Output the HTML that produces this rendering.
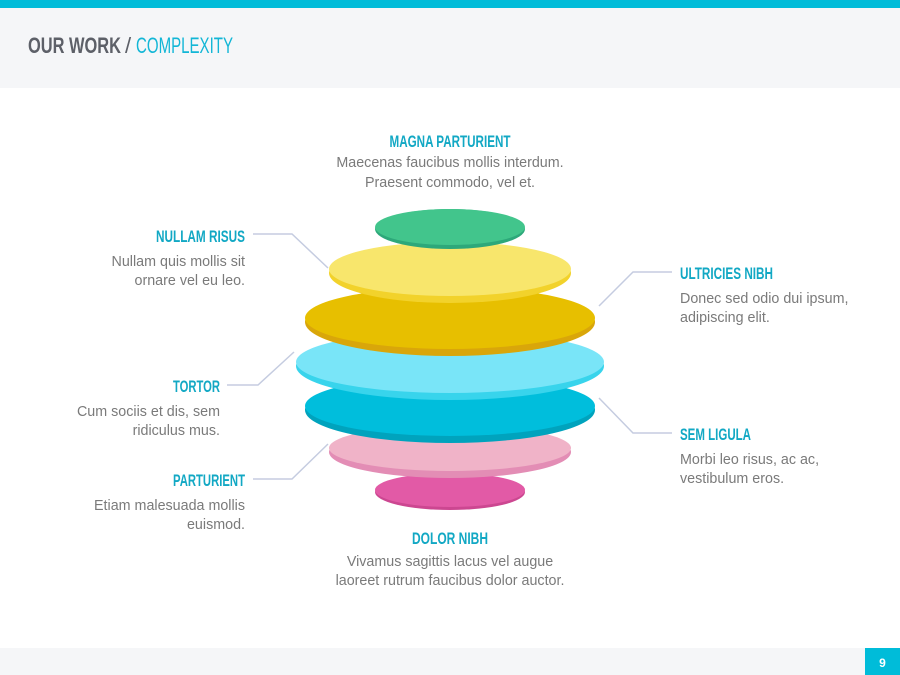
<!DOCTYPE html>
<html><head><meta charset="utf-8"><style>
html,body{margin:0;padding:0;background:#fff;}
svg{display:block;}
.t{font-family:"Liberation Sans",sans-serif;font-weight:bold;font-size:16.5px;fill:#12a8c4;}
.b{font-family:"Liberation Sans",sans-serif;font-size:14.3px;fill:#7a7a7a;}
</style></head><body>
<svg width="900" height="675" viewBox="0 0 900 675" xmlns="http://www.w3.org/2000/svg">
<rect x="0" y="0" width="900" height="8" fill="#00bcd9"/>
<rect x="0" y="8" width="900" height="80" fill="#f5f6f8"/>
<text x="28" y="53" font-family="Liberation Sans, sans-serif" font-size="22" font-weight="bold" fill="#5d6068" textLength="93" lengthAdjust="spacingAndGlyphs">OUR WORK</text>
<text x="125" y="53" font-family="Liberation Sans, sans-serif" font-size="22" fill="#5d6068">/</text>
<text x="136" y="53" font-family="Liberation Sans, sans-serif" font-size="22" fill="#12b6d6" textLength="97" lengthAdjust="spacingAndGlyphs">COMPLEXITY</text>

<rect x="0" y="648" width="900" height="27" fill="#f5f6f8"/>
<rect x="865" y="648" width="35" height="27" fill="#00bcd9"/>
<text x="882.5" y="667" text-anchor="middle" font-family="Liberation Sans, sans-serif" font-size="12" font-weight="bold" fill="#fff">9</text>

<g fill="none" stroke="#c5cce0" stroke-width="1.5">
<polyline points="253,234 292,234 328,268"/>
<polyline points="227,385 258,385 294,352"/>
<polyline points="253,479 292,479 328,444"/>
<polyline points="672,272 633,272 599,306"/>
<polyline points="672,433 633,433 599,398"/>
</g>

<ellipse cx="450" cy="492" rx="75" ry="18" fill="#cc4791"/>
<ellipse cx="450" cy="490" rx="75" ry="17" fill="#e25aa6"/>
<ellipse cx="450" cy="452" rx="121" ry="26" fill="#e38db5"/>
<ellipse cx="450" cy="448" rx="121" ry="23" fill="#f0b3c8"/>
<ellipse cx="450" cy="410" rx="145" ry="33" fill="#00a3bd"/>
<ellipse cx="450" cy="406" rx="145" ry="30" fill="#00bedc"/>
<ellipse cx="450" cy="366" rx="154" ry="34" fill="#38d4ec"/>
<ellipse cx="450" cy="362" rx="154" ry="31" fill="#79e5f8"/>
<ellipse cx="450" cy="322" rx="145" ry="34" fill="#d9a60a"/>
<ellipse cx="450" cy="318" rx="145" ry="31" fill="#e7bf00"/>
<ellipse cx="450" cy="273" rx="121" ry="30" fill="#f2d22b"/>
<ellipse cx="450" cy="269" rx="121" ry="27" fill="#f8e66c"/>
<ellipse cx="450" cy="229" rx="75" ry="20" fill="#2da87a"/>
<ellipse cx="450" cy="227" rx="75" ry="18" fill="#42c58c"/>

<text class="t" x="450" y="147" text-anchor="middle" textLength="121" lengthAdjust="spacingAndGlyphs">MAGNA PARTURIENT</text>
<text class="b" x="450" y="167" text-anchor="middle">Maecenas faucibus mollis interdum.</text>
<text class="b" x="450" y="187" text-anchor="middle">Praesent commodo, vel et.</text>

<text class="t" x="245" y="242" text-anchor="end" textLength="89" lengthAdjust="spacingAndGlyphs">NULLAM RISUS</text>
<text class="b" x="245" y="266" text-anchor="end">Nullam quis mollis sit</text>
<text class="b" x="245" y="285" text-anchor="end">ornare vel eu leo.</text>

<text class="t" x="220" y="392" text-anchor="end" textLength="47" lengthAdjust="spacingAndGlyphs">TORTOR</text>
<text class="b" x="220" y="416" text-anchor="end">Cum sociis et dis, sem</text>
<text class="b" x="220" y="435" text-anchor="end">ridiculus mus.</text>

<text class="t" x="245" y="486" text-anchor="end" textLength="72" lengthAdjust="spacingAndGlyphs">PARTURIENT</text>
<text class="b" x="245" y="510" text-anchor="end">Etiam malesuada mollis</text>
<text class="b" x="245" y="529" text-anchor="end">euismod.</text>

<text class="t" x="680" y="279" textLength="93" lengthAdjust="spacingAndGlyphs">ULTRICIES NIBH</text>
<text class="b" x="680" y="303">Donec sed odio dui ipsum,</text>
<text class="b" x="680" y="322">adipiscing elit.</text>

<text class="t" x="680" y="440" textLength="71" lengthAdjust="spacingAndGlyphs">SEM LIGULA</text>
<text class="b" x="680" y="464">Morbi leo risus, ac ac,</text>
<text class="b" x="680" y="483">vestibulum eros.</text>

<text class="t" x="450" y="544" text-anchor="middle" textLength="76" lengthAdjust="spacingAndGlyphs">DOLOR NIBH</text>
<text class="b" x="450" y="566" text-anchor="middle">Vivamus sagittis lacus vel augue</text>
<text class="b" x="450" y="585" text-anchor="middle">laoreet rutrum faucibus dolor auctor.</text>
</svg>
</body></html>
